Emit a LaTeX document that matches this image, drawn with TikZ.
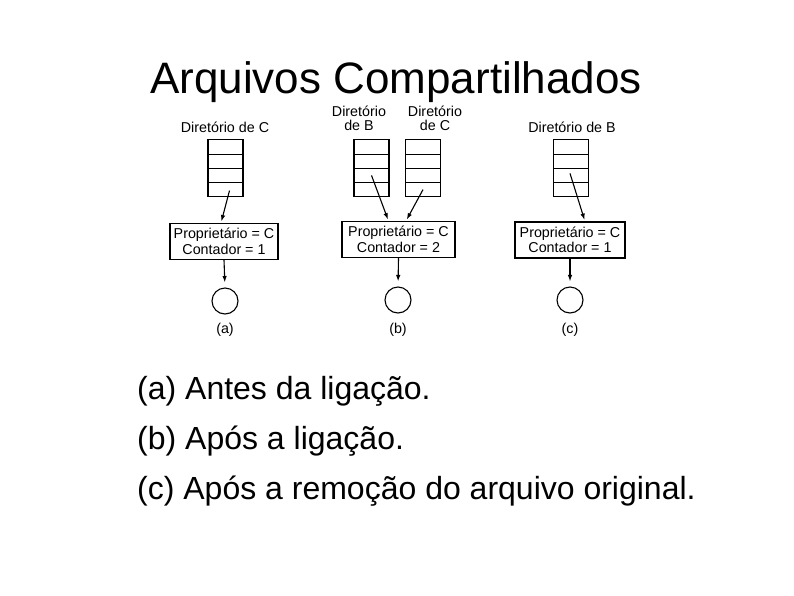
\documentclass[tikz,border=0pt]{standalone}
\usepackage{fontspec}
\setmainfont{Liberation Sans}
\usepackage{tikz}
\usetikzlibrary{arrows.meta,positioning}

\begin{document}
\begin{tikzpicture}[
  x=1pt, y=-1pt,
  >={Latex[length=6.5pt,width=4.5pt]},
  cell/.style={rectangle,draw,line width=1.1pt,minimum width=35pt,minimum height=14.2pt,inner sep=0pt},
  inode/.style={rectangle,draw,line width=1.1pt,minimum width=108pt,minimum height=36pt,inner sep=1.5pt,align=center,font=\fontsize{14.3}{15.5}\selectfont},
  file/.style={circle,draw,line width=1.1pt,minimum size=26pt,inner sep=0pt},
  lbl/.style={font=\fontsize{14.3}{14}\selectfont,align=center},
  ptr/.style={->,line width=1.1pt,shorten >=1.5pt},
  captxt/.style={anchor=base west,inner sep=0pt,font=\fontsize{32}{36}\selectfont}
]
\useasboundingbox (0,0) rectangle (794,595);
\node[anchor=base,font=\fontsize{44}{48}\selectfont] (title) at (396,93) {Arquivos Compartilhados};

% (a) antes da ligacao
\node[lbl] (da) at (225,127) {Diretório de C};
\node[cell] (a1) at (225.5,147) {}; \node[cell] (a2) at (225.5,161.2) {};
\node[cell] (a3) at (225.5,175.4) {}; \node[cell] (a4) at (225.5,189.6) {};
\node[inode] (ia) at (224,241.5) {Proprietário = C\\Contador = 1};
\node[file] (fa) at (225,301) {};
\node[lbl] (la) at (225,330) {(a)};
\draw[ptr] ([xshift=4pt,yshift=-1pt]a4.center) -- ([xshift=-3pt]ia.north);
\draw[ptr,shorten >=5pt] (ia.south) -- (fa.north);

% (b) apos a ligacao
\node[lbl] (db) at (359,118.5) {Diretório\\de B};
\node[lbl] (dc) at (435,118.5) {Diretório\\de C};
\node[cell] (b1) at (371.5,147) {}; \node[cell] (b2) at (371.5,161.2) {};
\node[cell] (b3) at (371.5,175.4) {}; \node[cell] (b4) at (371.5,189.6) {};
\node[cell] (c1) at (423,147) {}; \node[cell] (c2) at (423,161.2) {};
\node[cell] (c3) at (423,175.4) {}; \node[cell] (c4) at (423,189.6) {};
\node[inode,minimum width=113pt] (ib) at (398.5,239.5) {Proprietário = C\\Contador = 2};
\node[file] (fb) at (398,300) {};
\node[lbl] (lb) at (398,330) {(b)};
\draw[ptr] (b3.center) -- ([xshift=-10pt]ib.north);
\draw[ptr] (c4.center) -- ([xshift=7.5pt]ib.north);
\draw[ptr,shorten >=5pt] (ib.south) -- (fb.north);

% (c) apos a remocao
\node[lbl] (dd) at (572,127) {Diretório de B};
\node[cell] (e1) at (571,147) {}; \node[cell] (e2) at (571,161.2) {};
\node[cell] (e3) at (571,175.4) {}; \node[cell] (e4) at (571,189.6) {};
\node[inode,minimum width=110pt] (ic) at (570,240) {Proprietário = C\\Contador = 1};
\node[file] (fc) at (570,300) {};
\node[lbl] (lc) at (570,330) {(c)};
\draw[ptr] ([xshift=-1pt,yshift=2pt]e3.center) -- ([xshift=15pt]ic.north);
\draw[ptr,shorten >=5pt] (ic.south) -- (fc.north);

% legenda
\node[captxt] (ca) at (137,399) {(a) Antes da ligação.};
\node[captxt] (cb) at (137,449) {(b) Após a ligação.};
\node[captxt] (cc) at (137,499) {(c) Após a remoção do arquivo original.};
\end{tikzpicture}
\end{document}
